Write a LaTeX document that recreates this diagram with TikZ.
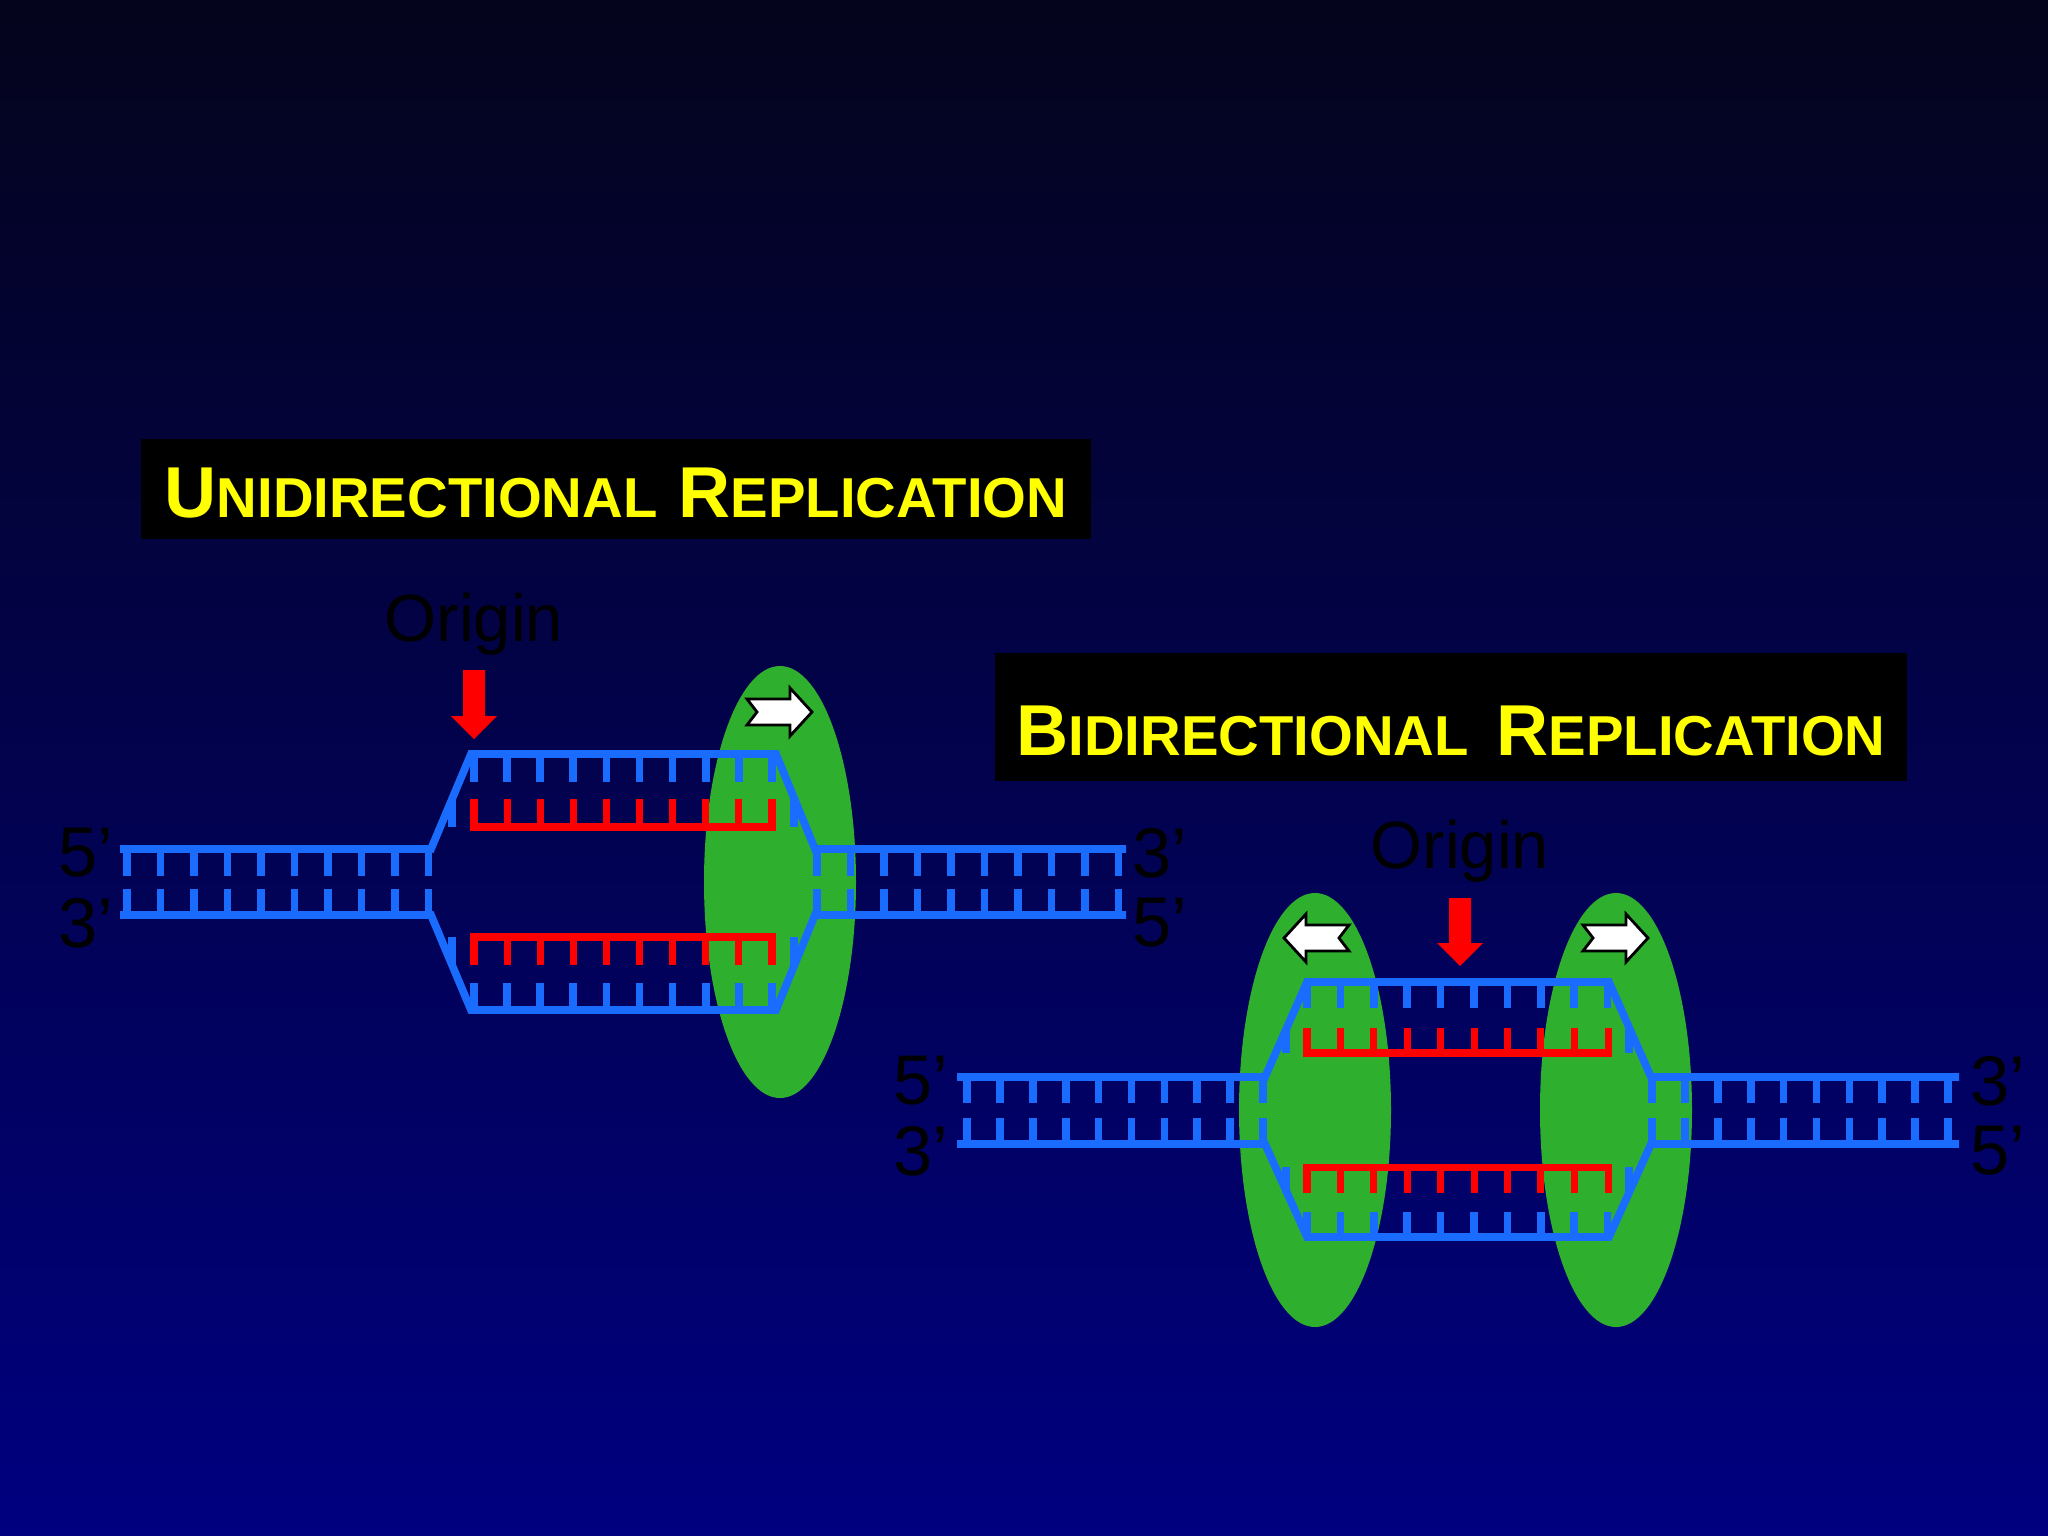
\documentclass[tikz,border=0pt]{standalone}
\usepackage{fontspec}
\setmainfont{Liberation Sans}
\definecolor{dnablue}{RGB}{26,108,255}
\definecolor{bubgreen}{RGB}{46,176,46}
\newcommand{\bigsc}[2]{{\fontsize{20.5}{24}\selectfont #1}{\fontsize{16}{20}\selectfont #2}}
\tikzset{
  blu/.style={draw=dnablue,line width=2.2pt,line join=miter},
  rd/.style={draw=red,line width=2pt},
  bub/.style={fill=bubgreen,draw=none},
  lab/.style={text=black,font=\fontsize{20}{21}\selectfont,inner sep=0pt},
  orig/.style={text=black,font=\fontsize{19}{22}\selectfont,inner sep=0pt},
  ttl/.style={text={rgb,255:red,255;green,255;blue,0},font=\bfseries,inner sep=0pt},
  warrow/.style={fill=white,draw=black,line width=0.8pt,line join=miter},
  rarrow/.style={fill=red,draw=none}
}
\begin{document}
\begin{tikzpicture}[x=0.01cm,y=-0.01cm]
\shade[top color={rgb,255:red,4;green,4;blue,28},bottom color={rgb,255:red,0;green,0;blue,128}] (0,0) rectangle (2048,1536);
\useasboundingbox (0,0) rectangle (2048,1536);

% ---------- Unidirectional ----------
\fill[black] (141,439) rectangle (1091,539);
\node[ttl] (t1) at (616,493) {\bigsc{U}{NIDIRECTIONAL}\hspace{6pt}\bigsc{R}{EPLICATION}};
\node[orig] (o1) at (474,624) {Origin};
\fill[bub] (780,882) ellipse [x radius=76,y radius=216];
\path[rarrow] (463,670) -- (485,670) -- (485,716) -- (497,716) -- (474,739) -- (451,716) -- (463,716) -- cycle;
\path[warrow] (747,699) -- (790,699) -- (790,688) -- (812,712) -- (790,736) -- (790,725) -- (747,725) -- (757,712) -- cycle;
\draw[blu] (120,849) -- (431,849) -- (471,754) -- (776,754) -- (815,849) -- (1126,849);
\draw[blu] (120,915) -- (431,915) -- (471,1010) -- (776,1010) -- (815,915) -- (1126,915);
\foreach \i in {0,...,9}{
  \draw[blu] ({127+33.5*\i},849) -- ({127+33.5*\i},876);
  \draw[blu] ({127+33.5*\i},915) -- ({127+33.5*\i},889);
  \draw[blu] ({817+33.5*\i},849) -- ({817+33.5*\i},876);
  \draw[blu] ({817+33.5*\i},915) -- ({817+33.5*\i},889);
  \draw[blu] ({474+33.1*\i},754) -- ({474+33.1*\i},782);
  \draw[blu] ({474+33.1*\i},1010) -- ({474+33.1*\i},983);
}
\draw[rd] (474,799) -- (474,827) -- (772,827) -- (772,799);
\draw[rd] (474,965) -- (474,937) -- (772,937) -- (772,965);
\foreach \i in {1,...,8}{
  \draw[rd] ({474+33.1*\i},827) -- ({474+33.1*\i},799);
  \draw[rd] ({474+33.1*\i},937) -- ({474+33.1*\i},965);
}
\foreach \x in {452,794}{
  \draw[blu] (\x,799) -- (\x,827);
  \draw[blu] (\x,937) -- (\x,965);
}
\node[lab] (u5l) at (86,853) {5’};
\node[lab] (u3l) at (86,923) {3’};
\node[lab] (u3r) at (1160,853) {3’};
\node[lab] (u5r) at (1160,923) {5’};

% ---------- Bidirectional ----------
\fill[black] (995,653) rectangle (1907,781);
\node[ttl] (t2) at (1451,731) {\bigsc{B}{IDIRECTIONAL}\hspace{8pt}\bigsc{R}{EPLICATION}};
\node[orig] (o2) at (1460,851) {Origin};
\fill[bub] (1315,1110) ellipse [x radius=76,y radius=217];
\fill[bub] (1616,1110) ellipse [x radius=76,y radius=217];
\path[rarrow] (1449,898) -- (1471,898) -- (1471,943) -- (1483,943) -- (1460,966) -- (1437,943) -- (1449,943) -- cycle;
\path[warrow] (1583,925) -- (1626,925) -- (1626,914) -- (1648,938) -- (1626,962) -- (1626,951) -- (1583,951) -- (1593,938) -- cycle;
\path[warrow] (1349,925) -- (1306,925) -- (1306,914) -- (1284,938) -- (1306,962) -- (1306,951) -- (1349,951) -- (1339,938) -- cycle;
\draw[blu] (957,1077) -- (1265,1077) -- (1307,982) -- (1609,982) -- (1651,1077) -- (1959,1077);
\draw[blu] (957,1144) -- (1265,1144) -- (1307,1237) -- (1609,1237) -- (1651,1144) -- (1959,1144);
\foreach \i in {0,...,9}{
  \draw[blu] ({967+32.9*\i},1077) -- ({967+32.9*\i},1103);
  \draw[blu] ({967+32.9*\i},1144) -- ({967+32.9*\i},1118);
  \draw[blu] ({1652+32.9*\i},1077) -- ({1652+32.9*\i},1103);
  \draw[blu] ({1652+32.9*\i},1144) -- ({1652+32.9*\i},1118);
  \draw[blu] ({1307+33.4*\i},982) -- ({1307+33.4*\i},1008);
  \draw[blu] ({1307+33.4*\i},1237) -- ({1307+33.4*\i},1212);
}
\draw[rd] (1307,1028) -- (1307,1053) -- (1608,1053) -- (1608,1028);
\draw[rd] (1307,1193) -- (1307,1167) -- (1608,1167) -- (1608,1193);
\foreach \i in {1,...,8}{
  \draw[rd] ({1307+33.4*\i},1053) -- ({1307+33.4*\i},1028);
  \draw[rd] ({1307+33.4*\i},1167) -- ({1307+33.4*\i},1193);
}
\foreach \x in {1286,1629}{
  \draw[blu] (\x,1028) -- (\x,1053);
  \draw[blu] (\x,1167) -- (\x,1193);
}
\node[lab] (b5l) at (921,1081) {5’};
\node[lab] (b3l) at (921,1151) {3’};
\node[lab] (b3r) at (1998,1081) {3’};
\node[lab] (b5r) at (1998,1151) {5’};
\end{tikzpicture}
\end{document}
